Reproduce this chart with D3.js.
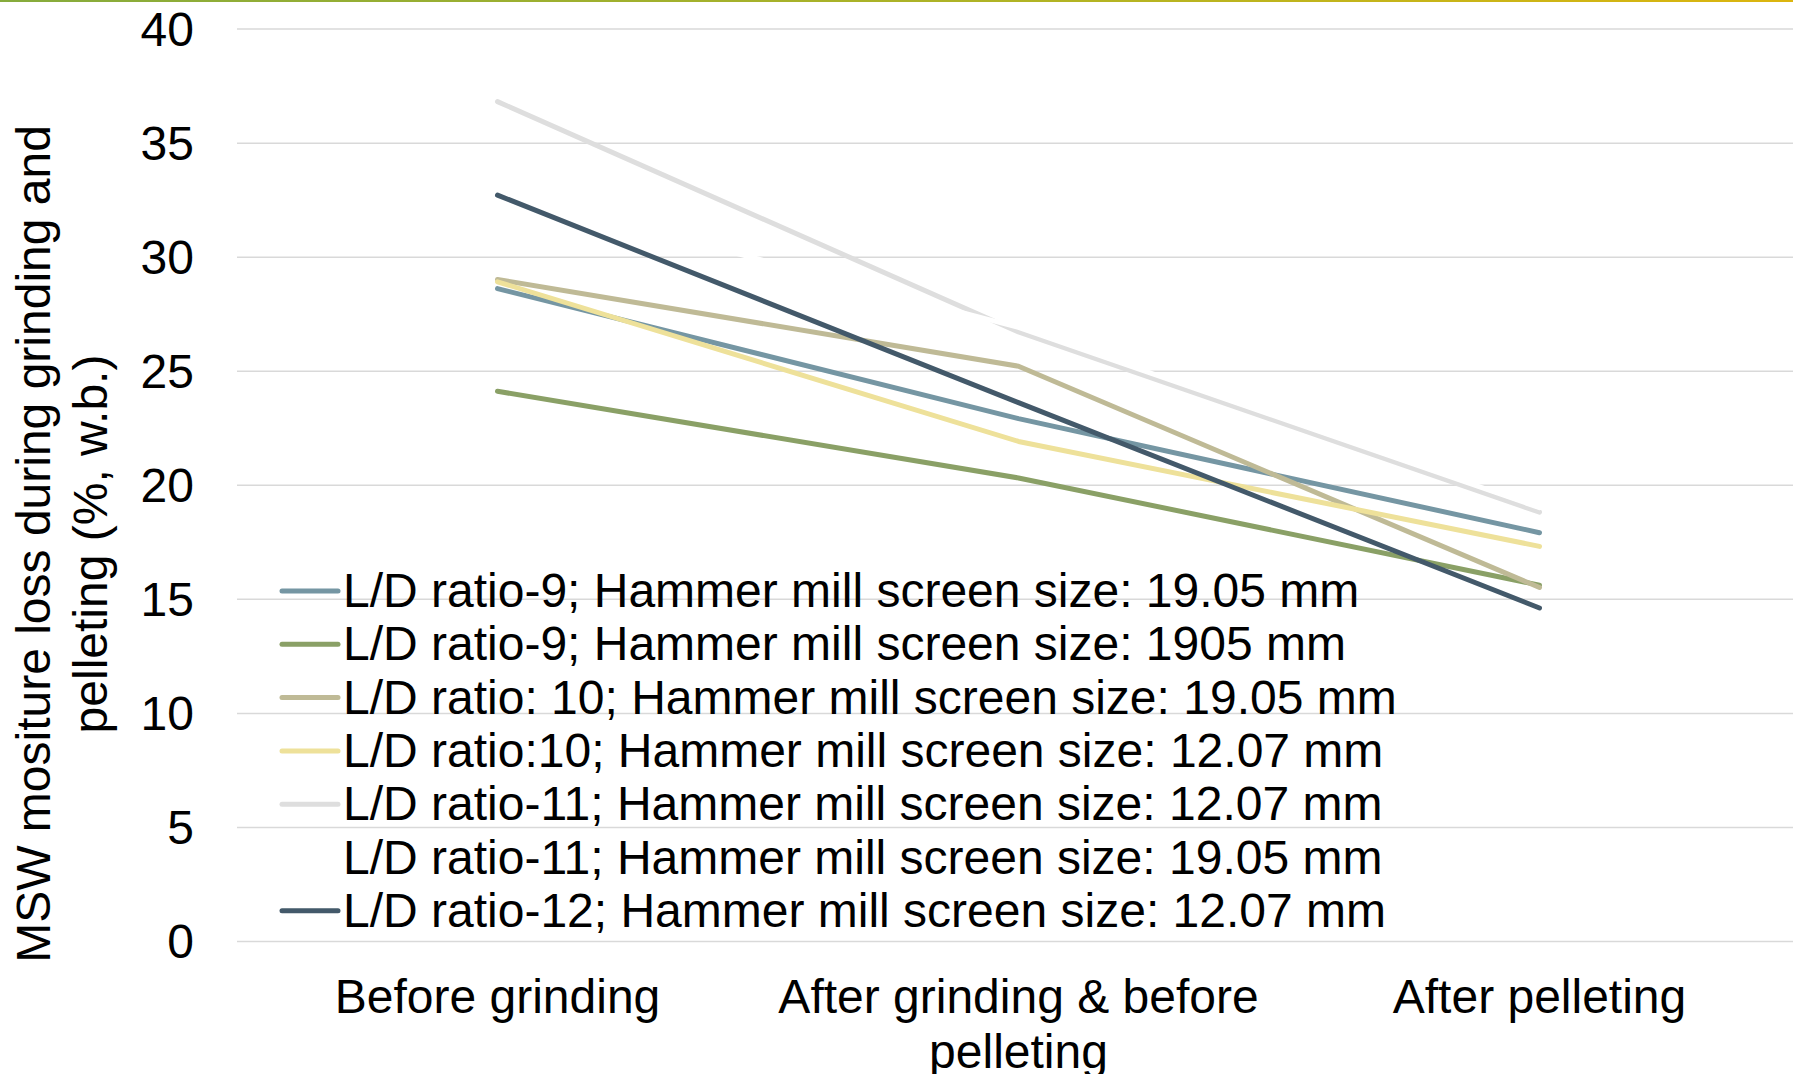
<!DOCTYPE html>
<html>
<head>
<meta charset="utf-8">
<script src="https://cdn.jsdelivr.net/npm/d3@7"></script>
<style>
  html, body { margin: 0; padding: 0; background: #ffffff; overflow: hidden; }
  svg { display: block; font-family: "Liberation Sans", Arial, sans-serif; }
</style>
</head>
<body>
<svg id="chart" width="1793" height="1074"></svg>
<script>
// Stages of processing (x categories)
const categories = ["Before grinding", "After grinding & before pelleting", "After pelleting"];

// Y axis ticks (% moisture, w.b.)
const yTicks = [0, 5, 10, 15, 20, 25, 30, 35, 40];

// Series names as shown in the legend
const seriesLabels = [
  "L/D ratio-9; Hammer mill screen size: 19.05 mm",
  "L/D ratio-9; Hammer mill screen size: 1905 mm",
  "L/D ratio: 10; Hammer mill screen size: 19.05 mm",
  "L/D ratio:10; Hammer mill screen size: 12.07 mm",
  "L/D ratio-11; Hammer mill screen size: 12.07 mm",
  "L/D ratio-11; Hammer mill screen size: 19.05 mm",
  "L/D ratio-12; Hammer mill screen size: 12.07 mm"
];

// Moisture values per stage for each run
const ld9Screen1905a = [28.6, 22.9, 17.9];
const ld9Screen1905b = [24.1, 20.3, 15.6];
const ld10Screen1905 = [29.0, 25.2, 15.5];
const ld10Screen1207 = [28.9, 21.9, 17.3];
const ld11Screen1207 = [36.8, 26.7, 18.8];
const ld11Screen1905 = [32.9, 26.9, 19.0];
const ld12Screen1207 = [32.7, 23.6, 14.6];

const seriesValues = [
  ld9Screen1905a, ld9Screen1905b, ld10Screen1905, ld10Screen1207,
  ld11Screen1207, ld11Screen1905, ld12Screen1207
];

const seriesColors = ["#7596a3", "#8aa066", "#bfba96", "#eee19a", "#dedede", "#ffffff", "#43596a"];

const W = 1793, H = 1074;
const plot = { left: 237, right: 1800, top: 28.6, bottom: 941 };
const FONT = 48;

const svg = d3.select("#chart");

// thin accent bar along the top edge
const defs = svg.append("defs");
const grad = defs.append("linearGradient").attr("id", "topbar").attr("x1", "0%").attr("x2", "100%");
grad.append("stop").attr("offset", "0%").attr("stop-color", "#86ab3c");
grad.append("stop").attr("offset", "60%").attr("stop-color", "#b3b423");
grad.append("stop").attr("offset", "100%").attr("stop-color", "#dcb50e");
svg.append("rect").attr("x", 0).attr("y", 0).attr("width", W).attr("height", 2).attr("fill", "url(#topbar)");

const x = d3.scaleBand().domain(categories).range([plot.left, plot.right]);
const y = d3.scaleLinear().domain([0, 40]).range([plot.bottom, plot.top]);
const cx = c => x(c) + x.bandwidth() / 2;

// gridlines + y tick labels
svg.append("g")
  .attr("transform", `translate(${plot.left},0)`)
  .call(d3.axisLeft(y).tickValues(yTicks).tickSize(-(W - plot.left)).tickPadding(43))
  .call(g => g.select(".domain").remove())
  .call(g => g.selectAll(".tick line").attr("stroke", "#d9d9d9").attr("stroke-width", 1.5))
  .call(g => g.selectAll(".tick text")
    .attr("font-size", FONT).attr("fill", "#000")
    .attr("font-family", "Liberation Sans, Arial, sans-serif")
    .attr("dy", "0.35em"));

// wrap text into tspans no wider than maxW
function wrap(textSel, maxW, lineH) {
  textSel.each(function () {
    const t = d3.select(this);
    const words = t.text().split(/\s+/);
    const xAttr = t.attr("x") || 0;
    t.text(null);
    let line = [];
    let tspan = t.append("tspan").attr("x", xAttr).attr("dy", 0);
    words.forEach(w => {
      line.push(w);
      tspan.text(line.join(" "));
      if (tspan.node().getComputedTextLength() > maxW && line.length > 1) {
        line.pop();
        tspan.text(line.join(" "));
        line = [w];
        tspan = t.append("tspan").attr("x", xAttr).attr("dy", lineH).text(w);
      }
    });
  });
}

// x category labels
svg.append("g")
  .attr("transform", `translate(0,1013)`)
  .call(d3.axisBottom(x).tickSize(0).tickPadding(0))
  .call(g => g.select(".domain").remove())
  .call(g => g.selectAll(".tick text")
    .attr("font-size", FONT).attr("fill", "#000")
    .attr("font-family", "Liberation Sans, Arial, sans-serif")
    .attr("y", 0).attr("dy", 0)
    .call(wrap, 505, 55));

// y axis title
svg.append("text")
  .attr("transform", "translate(50,544) rotate(-90)")
  .attr("text-anchor", "middle")
  .attr("font-size", FONT)
  .attr("fill", "#000")
  .text("MSW mositure loss during grinding and pelleting (%, w.b.)")
  .call(wrap, 900, 57);

// series lines
const line = d3.line()
  .x((d, i) => cx(categories[i]))
  .y(d => y(d));

svg.append("g").selectAll("path")
  .data(seriesValues)
  .join("path")
  .attr("d", line)
  .attr("fill", "none")
  .attr("stroke", (d, i) => seriesColors[i])
  .attr("stroke-width", 5)
  .attr("stroke-linecap", "round")
  .attr("stroke-linejoin", "round");

// legend
const legend = svg.append("g");
const rows = legend.selectAll("g")
  .data(seriesLabels)
  .join("g")
  .attr("transform", (d, i) => `translate(0,${591 + i * 53.3})`);
rows.append("line")
  .attr("x1", 282).attr("x2", 338)
  .attr("stroke", (d, i) => seriesColors[i])
  .attr("stroke-width", 5)
  .attr("stroke-linecap", "round");
rows.append("text")
  .attr("x", 343).attr("y", 16)
  .attr("font-size", FONT)
  .attr("fill", "#000")
  .text(d => d);
</script>
</body>
</html>
